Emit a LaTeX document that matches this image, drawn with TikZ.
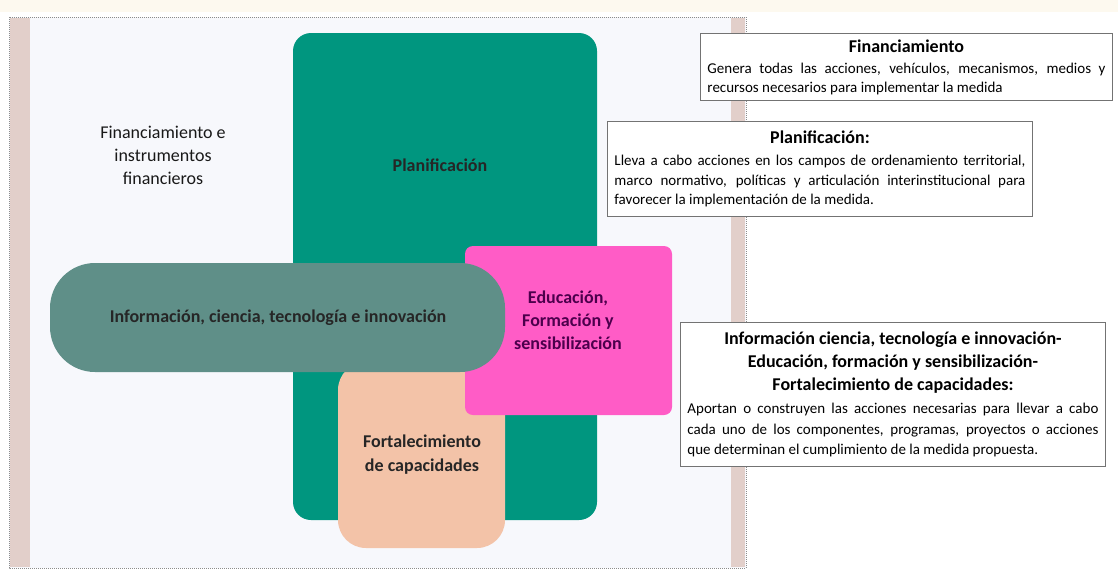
\documentclass[tikz,border=0pt]{standalone}
\usepackage{fontspec}
\setmainfont{Carlito}
\usepackage{tikz}
\usetikzlibrary{positioning}
\definecolor{PlanTeal}{HTML}{00967F}
\definecolor{InfoGray}{HTML}{5F8F88}
\definecolor{EduPink}{HTML}{FF5CC6}
\definecolor{FortPeach}{HTML}{F3C3A8}
\definecolor{FrameFill}{HTML}{F7F8FC}
\definecolor{FrameStrip}{HTML}{E2CFCA}
\definecolor{TopCream}{HTML}{FDF9EF}
\newcommand{\boxtitle}[1]{{\centering\fontsize{18}{23}\selectfont\bfseries #1\par}\vspace{3pt}}

\begin{document}
\begin{tikzpicture}[x=1pt,y=-1pt,
  every node/.style={font=\fontsize{18}{23}\selectfont, align=center, inner sep=0pt},
  label/.style={font=\fontsize{18}{23}\selectfont\bfseries, text=black!85},
  infobox/.style={draw=black!55, line width=0.9pt, fill=white, anchor=north west,
    align=justify, inner xsep=7pt, inner ysep=9pt,
    execute at begin node={\hyphenpenalty=10000},
    font=\fontsize{15}{20}\selectfont}]
  \useasboundingbox[fill=white] (0,0) rectangle (1118,573);
  \fill[TopCream] (0,0) rectangle (1118,12);
  % frame of the diagram
  \draw[black!45, densely dotted, fill=FrameFill, line width=1pt] (9,17) rectangle (746,568);
  \foreach \xa/\xb in {10/30,731/745}
    \fill[FrameStrip] (\xa,18) rectangle (\xb,567);
  % components
  \fill[PlanTeal, rounded corners=18pt] (293,33) rectangle (597,520);
  \fill[FortPeach, rounded corners=28pt] (338,362) rectangle (505,548);
  \fill[EduPink, rounded corners=8pt] (465,246) rectangle (672,415);
  \fill[InfoGray, rounded corners=45pt] (50,263) rectangle (505,372);
  \node[text=black!90] (fin) at (163,155) {Financiamiento e\\instrumentos\\financieros};
  \node[label] (plan) at (440,165) {Planificación};
  \node[label] (info) at (278,318) {Información, ciencia, tecnología e innovación};
  \node[label, text=violet!60!black] (edu) at (568,320) {Educación,\\Formación y\\sensibilización};
  \node[label, font=\fontsize{18}{24}\selectfont\bfseries] (fort) at (422,455) {Fortalecimiento\\de capacidades};
  % descriptions
  \node[infobox, text width=398pt, inner ysep=6pt, font=\fontsize{15}{18.5}\selectfont] (finbox) at (700,33)
    {\boxtitle{Financiamiento}
     Genera todas las acciones, vehículos, mecanismos, medios y\linebreak
     recursos necesarios para implementar la medida};
  \node[infobox, text width=411pt, font=\fontsize{15}{19.5}\selectfont] (planbox) at (607,121)
    {\boxtitle{Planificación:}
     Lleva a cabo acciones en los campos de ordenamiento territorial,\linebreak
     marco normativo, políticas y articulación interinstitucional para\linebreak
     favorecer la implementación de la medida.};
  \node[infobox, text width=411pt, font=\fontsize{15}{20.5}\selectfont] (infobox) at (680,322)
    {\boxtitle{Información ciencia, tecnología e innovación-\\
      Educación, formación y sensibilización-\\ Fortalecimiento de capacidades:}
     Aportan o construyen las acciones necesarias para llevar a cabo\linebreak
     cada uno de los componentes, programas, proyectos o acciones\linebreak
     que determinan el cumplimiento de la medida propuesta.};
\end{tikzpicture}
\end{document}
